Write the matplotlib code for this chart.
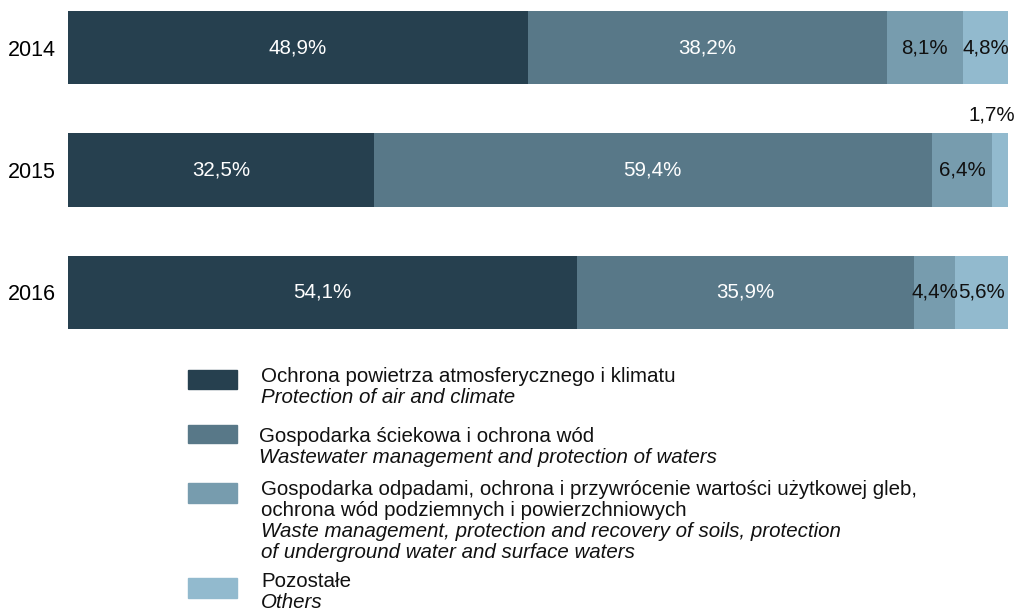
import matplotlib.pyplot as plt
from matplotlib.patches import Rectangle

plt.rcParams['font.family'] = ['Liberation Sans', 'DejaVu Sans']

years = ["2014", "2015", "2016"]
air = [48.9, 32.5, 54.1]
wastewater = [38.2, 59.4, 35.9]
waste = [8.1, 6.4, 4.4]
others = [4.8, 1.7, 5.6]

series = [air, wastewater, waste, others]
colors = ["#26404f", "#587888", "#779cae", "#92bace"]
text_colors = ["white", "white", "#111111", "#111111"]
legend_pl = [
    "Ochrona powietrza atmosferycznego i klimatu",
    "Gospodarka ściekowa i ochrona wód",
    "Gospodarka odpadami, ochrona i przywrócenie wartości użytkowej gleb,\nochrona wód podziemnych i powierzchniowych",
    "Pozostałe",
]
legend_en = [
    "Protection of air and climate",
    "Wastewater management and protection of waters",
    "Waste management, protection and recovery of soils, protection\nof underground water and surface waters",
    "Others",
]

W, H = 1021, 610
fig = plt.figure(figsize=(W / 100, H / 100), dpi=100)
ax = fig.add_axes([68 / W, 1 - 329.25 / H, 940 / W, 318.5 / H])

pos = list(range(len(years)))
left = [0.0] * len(years)
for vals, c, tc in zip(series, colors, text_colors):
    ax.barh(pos, vals, left=left, height=0.596, color=c)
    for i, v in enumerate(vals):
        label = f"{v:.1f}%".replace(".", ",")
        if v < 3:
            # too thin for the label: put it above the bar
            ax.text(100.8, i - 0.45, label, ha="right", va="center",
                    fontsize=14.8, color=tc)
        else:
            ax.text(left[i] + v / 2, i, label, ha="center", va="center",
                    fontsize=14.8, color=tc)
    left = [l + v for l, v in zip(left, vals)]

ax.set_xlim(0, 100)
ax.set_ylim(2.3, -0.3)
ax.set_yticks(pos)
ax.set_yticklabels(years, fontsize=15.5)
ax.tick_params(axis="y", length=0, pad=9)
ax.set_xticks([])
for s in ax.spines.values():
    s.set_visible(False)

# legend drawn by hand, positions in figure pixels
boxes = [(370, 389), (425, 443), (483, 503), (578, 598)]
first_base = [382, 442, 495, 587]
text_x = [261, 259, 261, 261]
step = 21
for (b0, b1), base, tx, c, pl, en in zip(boxes, first_base, text_x, colors, legend_pl, legend_en):
    fig.add_artist(Rectangle((188 / W, 1 - b1 / H), 49 / W, (b1 - b0) / H,
                             color=c, transform=fig.transFigure))
    lines = [(t, "normal") for t in pl.split("\n")] + [(t, "italic") for t in en.split("\n")]
    for k, (t, st) in enumerate(lines):
        fig.text(tx / W, 1 - (base + k * step) / H, t, ha="left", va="baseline",
                 fontsize=14.8, style=st, color="#111111")

fig.savefig("out.png", dpi=100)
